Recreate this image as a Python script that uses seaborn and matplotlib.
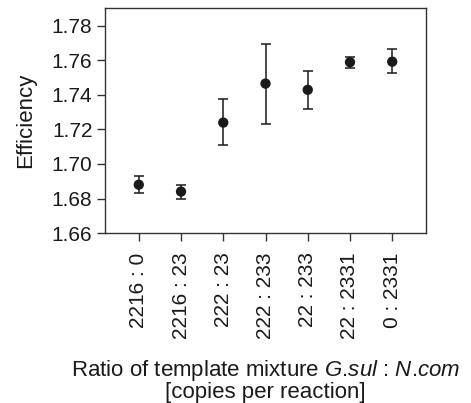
#!/usr/bin/env python

import pandas as pd
import seaborn as sns
import matplotlib.pyplot as plt

# values
ratios = ["2216 : 0", "2216 : 23", "222 : 23", "222 : 233",
          "22 : 233", "22 : 2331", "0 : 2331"]
efficiency = [1.688, 1.684, 1.724, 1.7466, 1.743, 1.759, 1.7593]
err_low = [1.683, 1.680, 1.711, 1.7234, 1.732, 1.7557, 1.7526]
err_high = [1.693, 1.688, 1.7375, 1.7697, 1.7537, 1.7622, 1.7665]

sns.set_style("ticks")
plt.rcParams['font.family'] = ['Liberation Sans', 'DejaVu Sans']
plt.rcParams['mathtext.fontset'] = 'custom'
plt.rcParams['mathtext.it'] = 'Liberation Sans:italic'
plt.rcParams['mathtext.rm'] = 'Liberation Sans'
FS = 15
LFS = 16


def main():
	df = pd.DataFrame({"ratio": ratios, "eff": efficiency,
	                   "lo": err_low, "hi": err_high})

	fig = plt.figure(figsize=(4.71, 4.03), dpi=100)
	ax = fig.add_axes([0.2229, 0.4218, 0.6816, 0.5583])

	# error bars first, then the dots on top
	ax.errorbar(range(len(df)), df["eff"],
	            yerr=[df["eff"] - df["lo"], df["hi"] - df["eff"]],
	            fmt='none', ecolor='#1a1a1a', elinewidth=1.1,
	            capsize=3.4, capthick=1.1, zorder=2)
	sns.scatterplot(x="ratio", y="eff", data=df, ax=ax, color='#1a1a1a',
	                s=55, edgecolor='none', zorder=3, legend=False)

	ax.set_xlim(-0.8, 6.8)
	ax.set_ylim(1.66, 1.7904)
	ax.set_yticks([1.66, 1.68, 1.70, 1.72, 1.74, 1.76, 1.78])
	ax.set_yticklabels(["%.2f" % v for v in ax.get_yticks()])
	ax.set_xticks(range(len(ratios)))
	ax.set_xticklabels(ratios, rotation=90)

	for s in ax.spines.values():
		s.set_color('#333333')
		s.set_linewidth(1.0)
	ax.tick_params(axis='both', direction='out', length=6, width=1,
	               color='#333333', labelsize=FS, labelcolor='#1a1a1a')
	ax.tick_params(axis='x', pad=8)
	ax.tick_params(axis='y', pad=3)

	ax.set_ylabel('Efficiency', fontsize=LFS, color='#1a1a1a', labelpad=11)
	ax.set_xlabel('Ratio of template mixture $\\mathit{G}$.$\\mathit{sul}$ : '
	              '$\\mathit{N}$.$\\mathit{com}$\n'
	              '[copies per reaction]', fontsize=LFS, color='#1a1a1a',
	              labelpad=13.5, linespacing=0.95)

	plt.savefig('out.png', dpi=100)


if __name__ == '__main__':
	main()
